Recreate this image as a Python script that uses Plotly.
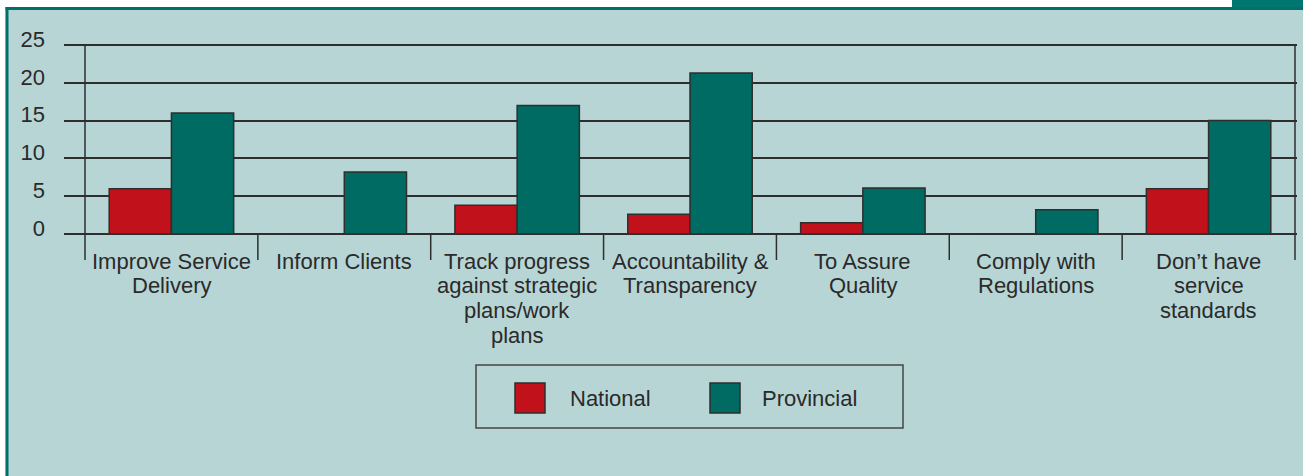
import plotly.graph_objects as go

# ---------------- data ----------------
categories = [
    ["Improve Service", "Delivery"],
    ["Inform Clients"],
    ["Track progress", "against strategic", "plans/work", "plans"],
    ["Accountability &", "Transparency"],
    ["To Assure", "Quality"],
    ["Comply with", "Regulations"],
    ["Don\u2019t have", "service", "standards"],
]
series_names = ["National", "Provincial"]
national = [6, 0, 3.8, 2.6, 1.5, 0, 6]
provincial = [16, 8.2, 17, 21.3, 6.1, 3.2, 15]
y_ticks = [0, 5, 10, 15, 20, 25]

# ---------------- styling ----------------
W, H = 1303, 476
ML, MR, MT, MB = 64, 6, 42, 216
PW = W - ML - MR
PH = H - MT - MB
BG = "#b8d5d5"
RED = "#c1121b"
TEAL = "#006b62"
DARK_TEAL = "#00706a"
LINE = "#2e2e2e"
TXT = "#2a2a2a"
FONT = "Liberation Sans, Arial, sans-serif"
FS = 22

Y_MIN = -3.44
Y_MAX = 25.4
X_MIN = -0.6215
X_MAX = 6.5116


def px_x(px):
    return (px - ML) / PW


def px_y(py):
    return (H - MB - py) / PH


idx = list(range(len(categories)))

fig = go.Figure()
fig.add_trace(go.Bar(x=idx, y=national, name=series_names[0],
                     marker=dict(color=RED, line=dict(color=LINE, width=1.5))))
fig.add_trace(go.Bar(x=idx, y=provincial, name=series_names[1],
                     marker=dict(color=TEAL, line=dict(color=LINE, width=1.5))))

shapes = []
# frame decorations
shapes.append(dict(type="rect", xref="paper", yref="paper", layer="below",
                   x0=px_x(0), x1=px_x(W), y0=px_y(0), y1=px_y(7.5),
                   fillcolor="white", line=dict(width=0)))
shapes.append(dict(type="rect", xref="paper", yref="paper", layer="below",
                   x0=px_x(0), x1=px_x(5.5), y0=px_y(0), y1=px_y(H),
                   fillcolor="white", line=dict(width=0)))
shapes.append(dict(type="rect", xref="paper", yref="paper", layer="below",
                   x0=px_x(1232), x1=px_x(W), y0=px_y(0), y1=px_y(9),
                   fillcolor="#007670", line=dict(width=0)))
shapes.append(dict(type="line", xref="paper", yref="paper", layer="below",
                   x0=px_x(5.5), x1=px_x(W), y0=px_y(8.5), y1=px_y(8.5),
                   line=dict(color=DARK_TEAL, width=3)))
shapes.append(dict(type="line", xref="paper", yref="paper", layer="below",
                   x0=px_x(7), x1=px_x(7), y0=px_y(7), y1=px_y(H),
                   line=dict(color=DARK_TEAL, width=3)))

# category boundary lines
n = len(categories)
for k in range(n + 1):
    xb = k - 0.5
    top = 25 if k in (0, n) else 0
    shapes.append(dict(type="line", xref="x", yref="y", layer="above",
                       x0=xb, x1=xb, y0=Y_MIN, y1=top,
                       line=dict(color=LINE, width=1.5)))

# legend box
shapes.append(dict(type="rect", xref="paper", yref="paper",
                   x0=px_x(476), x1=px_x(903), y0=px_y(365), y1=px_y(428),
                   line=dict(color="#444444", width=1.5), fillcolor="rgba(0,0,0,0)"))
leg_sq = [(515, RED), (710, TEAL)]
for (sx, col) in leg_sq:
    shapes.append(dict(type="rect", xref="paper", yref="paper",
                       x0=px_x(sx), x1=px_x(sx + 30), y0=px_y(383), y1=px_y(413),
                       line=dict(color=LINE, width=1.5), fillcolor=col))

annotations = []
leg_txt_x = [568, 760]
for name, tx in zip(series_names, leg_txt_x):
    annotations.append(dict(text=name, xref="paper", yref="paper",
                            x=px_x(tx), y=px_y(398), xanchor="left", yanchor="middle",
                            showarrow=False, font=dict(family=FONT, size=FS, color=TXT)))

# category labels, one annotation per line
LINE_H = 24.67
for i, lines in enumerate(categories):
    for j, ln in enumerate(lines):
        annotations.append(dict(text=ln, xref="x", yref="paper",
                                x=i, y=px_y(261 + j * LINE_H),
                                xanchor="center", yanchor="middle", showarrow=False,
                                font=dict(family=FONT, size=FS, color=TXT)))

fig.update_layout(
    width=W, height=H,
    margin=dict(l=ML, r=MR, t=MT, b=MB, pad=0),
    paper_bgcolor=BG, plot_bgcolor=BG,
    barmode="group", bargap=0.28, bargroupgap=0,
    showlegend=False,
    shapes=shapes, annotations=annotations,
    font=dict(family=FONT, size=FS, color=TXT),
)
fig.update_xaxes(range=[X_MIN, X_MAX], showgrid=False, zeroline=False,
                 showticklabels=False, showline=False, ticks="", fixedrange=True)
fig.update_yaxes(range=[Y_MIN, Y_MAX], tickvals=y_ticks, ticktext=[str(v) for v in y_ticks],
                 showgrid=True, gridcolor=LINE, gridwidth=1.5,
                 zeroline=True, zerolinecolor=LINE, zerolinewidth=2,
                 showline=False, ticks="", ticklabelstandoff=18, ticklabelshift=-6,
                 tickfont=dict(family=FONT, size=FS, color=TXT), fixedrange=True)

fig.write_html("out.html", config={"displayModeBar": False},
               post_script="document.body.style.margin='0px';")
